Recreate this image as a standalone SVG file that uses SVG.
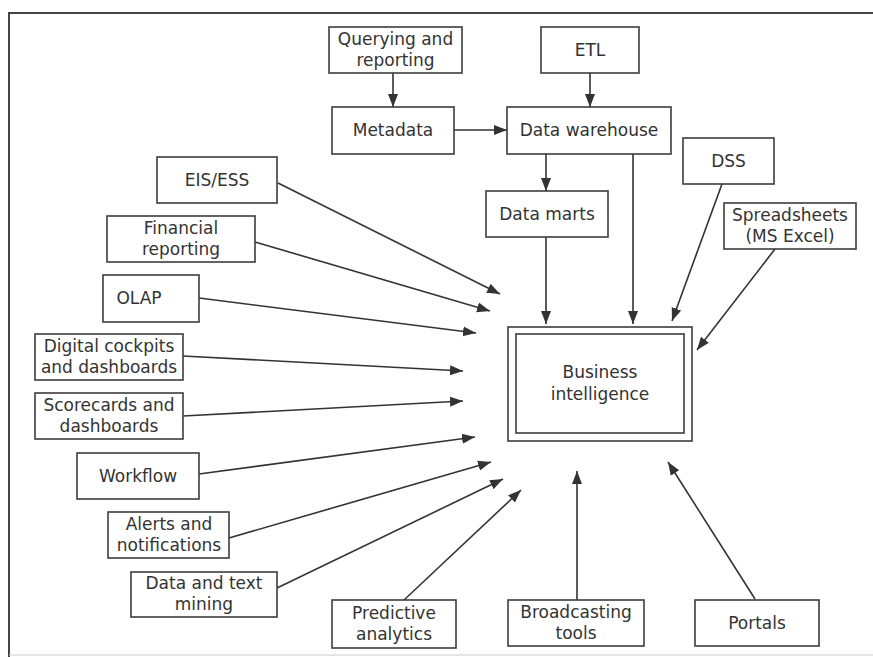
<svg xmlns="http://www.w3.org/2000/svg" width="873" height="657" viewBox="0 0 873 657">
<style>
.box{fill:#fff;stroke:#3c3c3c;stroke-width:1.6}
.t{font-family:"DejaVu Sans","Liberation Sans",sans-serif;font-size:17px;fill:#333;text-anchor:middle}
.c{stroke:#333;stroke-width:1.6;fill:none;marker-end:url(#ah)}
.frame{stroke:#444;stroke-width:2;fill:none}
</style>
<defs>
<marker id="ah" markerUnits="userSpaceOnUse" markerWidth="14" markerHeight="12" refX="13" refY="5" orient="auto" viewBox="0 0 14 10">
<path d="M0,0 L13,5 L0,10 Z" fill="#333"/>
</marker>
</defs>
<rect width="873" height="657" fill="#fff"/>
<g id="frame">
<path class="frame" d="M9,657 L9,13 L873,13"/>
<path d="M9,655 L873,655" stroke="#ccc" stroke-width="1" fill="none"/>
</g>
<g id="connectors">
<line class="c" x1="393" y1="73" x2="393" y2="107"/>
<line class="c" x1="590" y1="73" x2="590" y2="107"/>
<line class="c" x1="454" y1="130" x2="507" y2="130"/>
<line class="c" x1="546" y1="154" x2="546" y2="191"/>
<line class="c" x1="546" y1="237" x2="546" y2="324"/>
<line class="c" x1="633" y1="154" x2="633" y2="324"/>
<line class="c" x1="722" y1="184" x2="672" y2="321"/>
<line class="c" x1="775" y1="249" x2="697" y2="350"/>
<line class="c" x1="278" y1="183" x2="500" y2="294"/>
<line class="c" x1="255" y1="242" x2="490" y2="311"/>
<line class="c" x1="199" y1="298" x2="476" y2="333"/>
<line class="c" x1="183" y1="356" x2="463" y2="371"/>
<line class="c" x1="183" y1="416" x2="463" y2="401"/>
<line class="c" x1="199" y1="474" x2="475" y2="437"/>
<line class="c" x1="229" y1="538" x2="491" y2="462"/>
<line class="c" x1="277" y1="588" x2="503" y2="479"/>
<line class="c" x1="404" y1="600" x2="521" y2="490"/>
<line class="c" x1="577" y1="600" x2="577" y2="471"/>
<line class="c" x1="755" y1="599" x2="668" y2="462"/>
</g>
<g id="querying"><rect class="box" x="329" y="27" width="133" height="46"/><text class="t" x="395.5" y="45">Querying and</text><text class="t" x="395.5" y="66">reporting</text></g>
<g id="etl"><rect class="box" x="541" y="27" width="98" height="46"/><text class="t" x="590" y="56">ETL</text></g>
<g id="metadata"><rect class="box" x="332" y="107" width="122" height="47"/><text class="t" x="393" y="136">Metadata</text></g>
<g id="datawarehouse"><rect class="box" x="507" y="107" width="164" height="47"/><text class="t" x="589" y="136">Data warehouse</text></g>
<g id="datamarts"><rect class="box" x="486" y="191" width="122" height="46"/><text class="t" x="547" y="220">Data marts</text></g>
<g id="dss"><rect class="box" x="683" y="138" width="91" height="46"/><text class="t" x="728.5" y="167">DSS</text></g>
<g id="spreadsheets"><rect class="box" x="724" y="203" width="132" height="46"/><text class="t" x="790" y="221">Spreadsheets</text><text class="t" x="790" y="242">(MS Excel)</text></g>
<g id="eis"><rect class="box" x="157" y="157" width="120" height="46"/><text class="t" x="217" y="186">EIS/ESS</text></g>
<g id="financial"><rect class="box" x="107" y="216" width="148" height="46"/><text class="t" x="181" y="234">Financial</text><text class="t" x="181" y="255">reporting</text></g>
<g id="olap"><rect class="box" x="103" y="275" width="96" height="47"/><text class="t" x="139" y="304">OLAP</text></g>
<g id="digital"><rect class="box" x="35" y="334" width="148" height="46"/><text class="t" x="109" y="352">Digital cockpits</text><text class="t" x="109" y="373">and dashboards</text></g>
<g id="scorecards"><rect class="box" x="35" y="393" width="148" height="46"/><text class="t" x="109" y="411">Scorecards and</text><text class="t" x="109" y="432">dashboards</text></g>
<g id="workflow"><rect class="box" x="77" y="453" width="122" height="46"/><text class="t" x="138" y="482">Workflow</text></g>
<g id="alerts"><rect class="box" x="108" y="512" width="121" height="46"/><text class="t" x="169" y="530">Alerts and</text><text class="t" x="169" y="551">notifications</text></g>
<g id="datamining"><rect class="box" x="131" y="572" width="146" height="45"/><text class="t" x="204" y="589">Data and text</text><text class="t" x="204" y="610">mining</text></g>
<g id="predictive"><rect class="box" x="332" y="600" width="124" height="48"/><text class="t" x="394" y="619">Predictive</text><text class="t" x="394" y="640">analytics</text></g>
<g id="broadcasting"><rect class="box" x="508" y="600" width="136" height="46"/><text class="t" x="576" y="618">Broadcasting</text><text class="t" x="576" y="639">tools</text></g>
<g id="portals"><rect class="box" x="695" y="600" width="124" height="46"/><text class="t" x="757" y="629">Portals</text></g>
<g id="bi"><rect class="box" x="508" y="327" width="184" height="114"/><rect class="box" x="516" y="334" width="168" height="99"/><text class="t" x="600" y="378">Business</text><text class="t" x="600" y="400">intelligence</text></g>
</svg>
